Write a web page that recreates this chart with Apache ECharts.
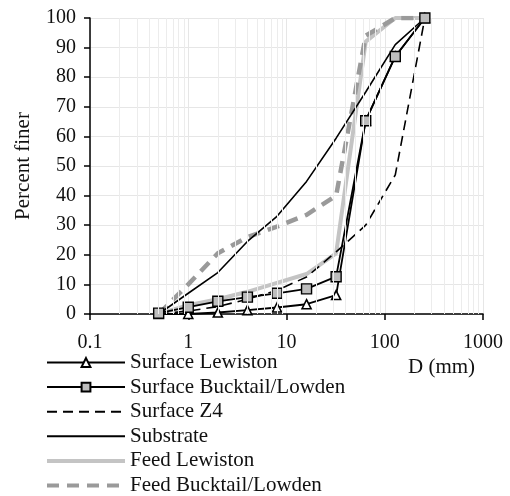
<!DOCTYPE html>
<html>
<head>
<meta charset="utf-8">
<script src="https://cdn.jsdelivr.net/npm/echarts@6/dist/echarts.min.js"></script>
<style>
  html, body { margin: 0; padding: 0; background: #fff; }
  #chart { width: 510px; height: 496px; }
</style>
</head>
<body>
<div id="chart"></div>
<script>
// grain sizes (mm) and percent finer for each sample
var sizes = [0.5, 1, 2, 4, 8, 16, 32, 64, 128, 256];
var surfaceLewiston = [0, 0, 0.5, 1.3, 2.2, 3.3, 6.4, 65.3, 87, 100];
var surfaceBucktail = [0.3, 2.3, 4.3, 5.7, 7.0, 8.5, 12.6, 65.3, 87, 100];
var surfaceZ4 = [0, 1, 2.5, 5, 8, 12.5, 21, 30, 47, 100];
var substrate = [0, 7, 14, 24.5, 33, 44.8, 59.4, 75, 91, 100];
var feedLewiston = [0, 3, 5, 7.5, 10.5, 13.5, 20.5, 92, 100, 100];
var feedBucktail = [0, 10, 20.5, 26, 29.5, 33.5, 40, 94, 100, 100];
var minorGrid = [0.2, 0.3, 0.4, 0.5, 0.6, 0.7, 0.8, 0.9,
                 2, 3, 4, 5, 6, 7, 8, 9,
                 20, 30, 40, 50, 60, 70, 80, 90,
                 200, 300, 400, 500, 600, 700, 800, 900];
var legendNames = ['Surface Lewiston', 'Surface Bucktail/Lowden', 'Surface Z4',
                   'Substrate', 'Feed Lewiston', 'Feed Bucktail/Lowden'];
var noMarker = ['Surface Z4', 'Substrate', 'Feed Lewiston', 'Feed Bucktail/Lowden'];
var thickLegend = ['Feed Lewiston', 'Feed Bucktail/Lowden'];

var font = 'Liberation Serif';

function pairs(ys) {
    return sizes.map(function(x, i) { return [x, ys[i]]; });
}

function legendItem(n) {
    var item = { name: n };
    if (noMarker.indexOf(n) >= 0) item.itemStyle = { opacity: 0 };
    if (thickLegend.indexOf(n) >= 0) item.lineStyle = { width: 4 };
    return item;
}

var chart = echarts.init(document.getElementById('chart'));

chart.setOption({
    animation: false,
    textStyle: { fontFamily: font, color: '#111' },
    grid: { left: 90, right: 27, top: 18, bottom: 182 },
    legend: {
        orient: 'vertical',
        left: 45,
        top: 352,
        height: 180,
        padding: 0,
        itemWidth: 78,
        itemHeight: 11,
        itemGap: 3.6,
        textStyle: { fontFamily: font, fontSize: 21, color: '#111' },
        data: legendNames.map(legendItem)
    },
    xAxis: {
        type: 'log',
        logBase: 10,
        min: 0.1,
        max: 1000,
        axisLine: { lineStyle: { color: '#000', width: 1.5 } },
        axisTick: { show: true, length: 6, lineStyle: { color: '#000', width: 1.5 } },
        axisLabel: {
            fontFamily: font, fontSize: 20, color: '#111', margin: 19,
            formatter: function(v) { return String(v); }
        },
        splitLine: { show: true, lineStyle: { color: '#e6e6e6', width: 1 } }
    },
    yAxis: {
        type: 'value',
        min: 0,
        max: 100,
        interval: 10,
        name: 'Percent finer',
        nameLocation: 'middle',
        nameGap: 56,
        nameRotate: 90,
        nameTextStyle: { fontFamily: font, fontSize: 21, color: '#111' },
        axisLine: { show: true, lineStyle: { color: '#000', width: 1.5 } },
        axisTick: { show: true, length: 6, lineStyle: { color: '#000', width: 1.5 } },
        axisLabel: { fontFamily: font, fontSize: 20, color: '#111', margin: 14 },
        splitLine: { show: true, lineStyle: { color: '#e6e6e6', width: 1 } }
    },
    graphic: [{
        type: 'text',
        left: 408,
        top: 357,
        style: { text: 'D (mm)', font: '21px "Liberation Serif"', fill: '#111' }
    }],
    series: [
        {
            name: 'grid',
            type: 'line',
            data: [],
            silent: true,
            z: 0,
            markLine: {
                silent: true,
                symbol: 'none',
                label: { show: false },
                lineStyle: { color: '#ececec', width: 1, type: 'solid' },
                data: minorGrid.map(function(v) { return { xAxis: v }; })
            }
        },
        {
            name: 'Feed Lewiston',
            type: 'line',
            data: pairs(feedLewiston),
            symbol: 'none',
            z: 1,
            lineStyle: { color: '#c4c4c4', width: 4 },
            itemStyle: { color: '#c4c4c4' }
        },
        {
            name: 'Feed Bucktail/Lowden',
            type: 'line',
            data: pairs(feedBucktail),
            symbol: 'none',
            z: 1,
            lineStyle: { color: '#9a9a9a', width: 4.5, type: [12, 8] },
            itemStyle: { color: '#9a9a9a' }
        },
        {
            name: 'Substrate',
            type: 'line',
            data: pairs(substrate),
            symbol: 'none',
            z: 2,
            lineStyle: { color: '#000', width: 1.6 },
            itemStyle: { color: '#000' }
        },
        {
            name: 'Surface Z4',
            type: 'line',
            data: pairs(surfaceZ4),
            symbol: 'none',
            z: 2,
            lineStyle: { color: '#000', width: 1.6, type: [10, 6] },
            itemStyle: { color: '#000' }
        },
        {
            name: 'Surface Lewiston',
            type: 'line',
            data: pairs(surfaceLewiston),
            symbol: 'triangle',
            symbolSize: 9,
            z: 3,
            lineStyle: { color: '#000', width: 1.8 },
            itemStyle: { color: '#fff', borderColor: '#000', borderWidth: 1.6 }
        },
        {
            name: 'Surface Bucktail/Lowden',
            type: 'line',
            data: pairs(surfaceBucktail),
            symbol: 'rect',
            symbolSize: 10,
            z: 4,
            lineStyle: { color: '#000', width: 1.8 },
            itemStyle: { color: '#bdbdbd', borderColor: '#000', borderWidth: 1.4 }
        }
    ]
});
</script>
</body>
</html>
